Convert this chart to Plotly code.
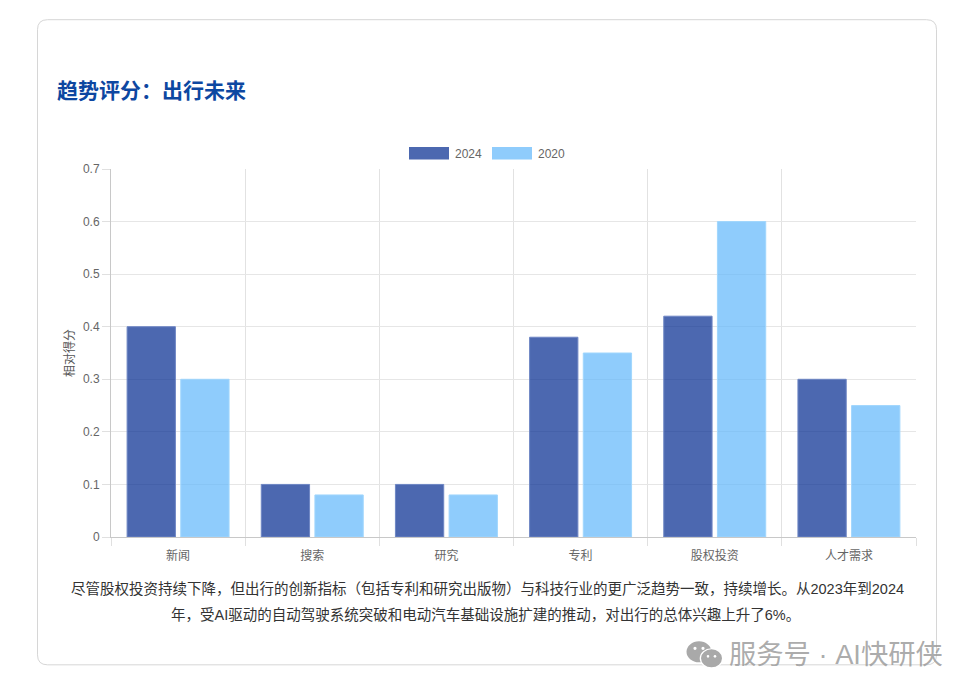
import plotly.graph_objects as go

categories = ["新闻", "搜索", "研究", "专利", "股权投资", "人才需求"]
values_2024 = [0.4, 0.1, 0.1, 0.38, 0.42, 0.3]
values_2020 = [0.3, 0.08, 0.08, 0.35, 0.6, 0.25]
y_ticks = [0, 0.1, 0.2, 0.3, 0.4, 0.5, 0.6, 0.7]
y_tick_labels = ["0", "0.1", "0.2", "0.3", "0.4", "0.5", "0.6", "0.7"]
title_text = "趋势评分\uff1a出行未来"
y_title = "相对得分"
para_1 = "尽管股权投资持续下降\uff0c但出行的创新指标\uff08包括专利和研究出版物\uff09与科技行业的更广泛趋势一致\uff0c持续增长。从2023年到2024"
para_2 = "年\uff0c受AI驱动的自动驾驶系统突破和电动汽车基础设施扩建的推动\uff0c对出行的总体兴趣上升了6%。"
watermark = "服务号 · AI快研侠"

W, H = 972, 694
L, R, T, B = 111, 916, 169, 537.5
FONT = "Liberation Sans, Noto Sans CJK SC, sans-serif"
C24 = "rgba(0,40,143,0.7)"
C20 = "rgba(96,183,251,0.7)"


def px(x):
    return (x - L) / (R - L)


def py(y):
    return (B - y) / (B - T)


def rounded(x0, y0, x1, y1, r):
    sx, sy = (lambda v: px(v)), (lambda v: py(v))
    return (
        f"M{sx(x0+r)},{sy(y0)} L{sx(x1-r)},{sy(y0)} Q{sx(x1)},{sy(y0)} {sx(x1)},{sy(y0+r)} "
        f"L{sx(x1)},{sy(y1-r)} Q{sx(x1)},{sy(y1)} {sx(x1-r)},{sy(y1)} "
        f"L{sx(x0+r)},{sy(y1)} Q{sx(x0)},{sy(y1)} {sx(x0)},{sy(y1-r)} "
        f"L{sx(x0)},{sy(y0+r)} Q{sx(x0)},{sy(y0)} {sx(x0+r)},{sy(y0)} Z"
    )


fig = go.Figure()
fig.add_bar(name="2024", x=categories, y=values_2024, marker=dict(color=C24, line=dict(color="rgba(110,134,196,1)", width=1)))
fig.add_bar(name="2020", x=categories, y=values_2020, marker=dict(color=C20, line=dict(color="rgba(160,214,253,1)", width=1)))


def rect(x0, y0, x1, y1, fill, line=None, layer="above"):
    return dict(type="rect", xref="paper", yref="paper", x0=px(x0), x1=px(x1), y0=py(y0), y1=py(y1),
                fillcolor=fill, line=dict(width=0 if line is None else 1, color=line or fill), layer=layer)


def ell(cx, cy, rx, ry, fill):
    return dict(type="circle", xref="paper", yref="paper", x0=px(cx - rx), x1=px(cx + rx),
                y0=py(cy + ry), y1=py(cy - ry), fillcolor=fill, line=dict(width=0), layer="above")


shapes = [
    dict(type="path", xref="paper", yref="paper", path=rounded(37.5, 19.5, 936.5, 665.5, 10),
         line=dict(color="#d6d6d6", width=1), fillcolor="rgba(0,0,0,0)", layer="below"),
    rect(409, 147, 449, 159.5, C24),
    rect(492, 147, 532, 159.5, C20),
    # WeChat glyph of the watermark
    ell(699, 652.5, 12.5, 10.5, "#a9a9a9"),
    ell(711.5, 659, 11.8, 10.2, "#ffffff"),
    ell(711.5, 659, 10.5, 9, "#a9a9a9"),
    ell(695, 649, 1.6, 1.6, "#ffffff"),
    ell(703, 649, 1.6, 1.6, "#ffffff"),
    ell(708, 657, 1.3, 1.3, "#ffffff"),
    ell(715, 657, 1.3, 1.3, "#ffffff"),
]


def note(text, x, y, size, color, xanchor="left", **kw):
    return dict(text=text, x=px(x), y=py(y), xref="paper", yref="paper", xanchor=xanchor, yanchor="middle",
                showarrow=False, font=dict(family=FONT, size=size, color=color), **kw)


annotations = [
    note("2024", 453, 153.5, 12, "#666666"),
    note("2020", 536, 153.5, 12, "#666666"),
    note(para_1, 487, 590, 14.5, "#333333", "center"),
    note(para_2, 485, 616, 14.5, "#333333", "center"),
    note(watermark, 727, 655, 27.3, "rgba(150,150,150,0.8)"),
]

fig.update_layout(
    width=W, height=H, autosize=False,
    margin=dict(l=L, r=W - R, t=T, b=H - B),
    paper_bgcolor="white", plot_bgcolor="white",
    barmode="group", bargap=0.2, bargroupgap=0.1,
    showlegend=False,
    font=dict(family=FONT, size=12, color="#666666"),
    title=dict(text=f"<b>{title_text}</b>", x=57 / W, y=1 - 91 / H, xref="container", yref="container",
               xanchor="left", yanchor="middle",
               font=dict(family="Noto Sans CJK SC, sans-serif", size=21, color="#0d47a1")),
    shapes=shapes, annotations=annotations,
    xaxis=dict(type="category", tickson="boundaries", ticks="outside", ticklen=8, tickwidth=1, tickcolor="#e0e0e0",
               showgrid=True, gridcolor="#e2e2e2", gridwidth=1, showline=True, linecolor="#c8c8c8", linewidth=1,
               tickfont=dict(size=12, color="#666666"), ticklabelstandoff=8, zeroline=False, fixedrange=True),
    yaxis=dict(range=[0, 0.7], tickvals=y_ticks, ticktext=y_tick_labels, ticks="outside", ticklen=8, tickwidth=1,
               tickcolor="#e0e0e0", showgrid=True, gridcolor="#e6e6e6", gridwidth=1, showline=True,
               linecolor="#c8c8c8", linewidth=1, zeroline=False, tickfont=dict(size=12, color="#666666"),
               title=dict(text=y_title, standoff=5, font=dict(size=12, color="#555555")), fixedrange=True),
)
fig.write_html("out.html", config=dict(displayModeBar=False),
               post_script="document.body.style.margin='0';")
